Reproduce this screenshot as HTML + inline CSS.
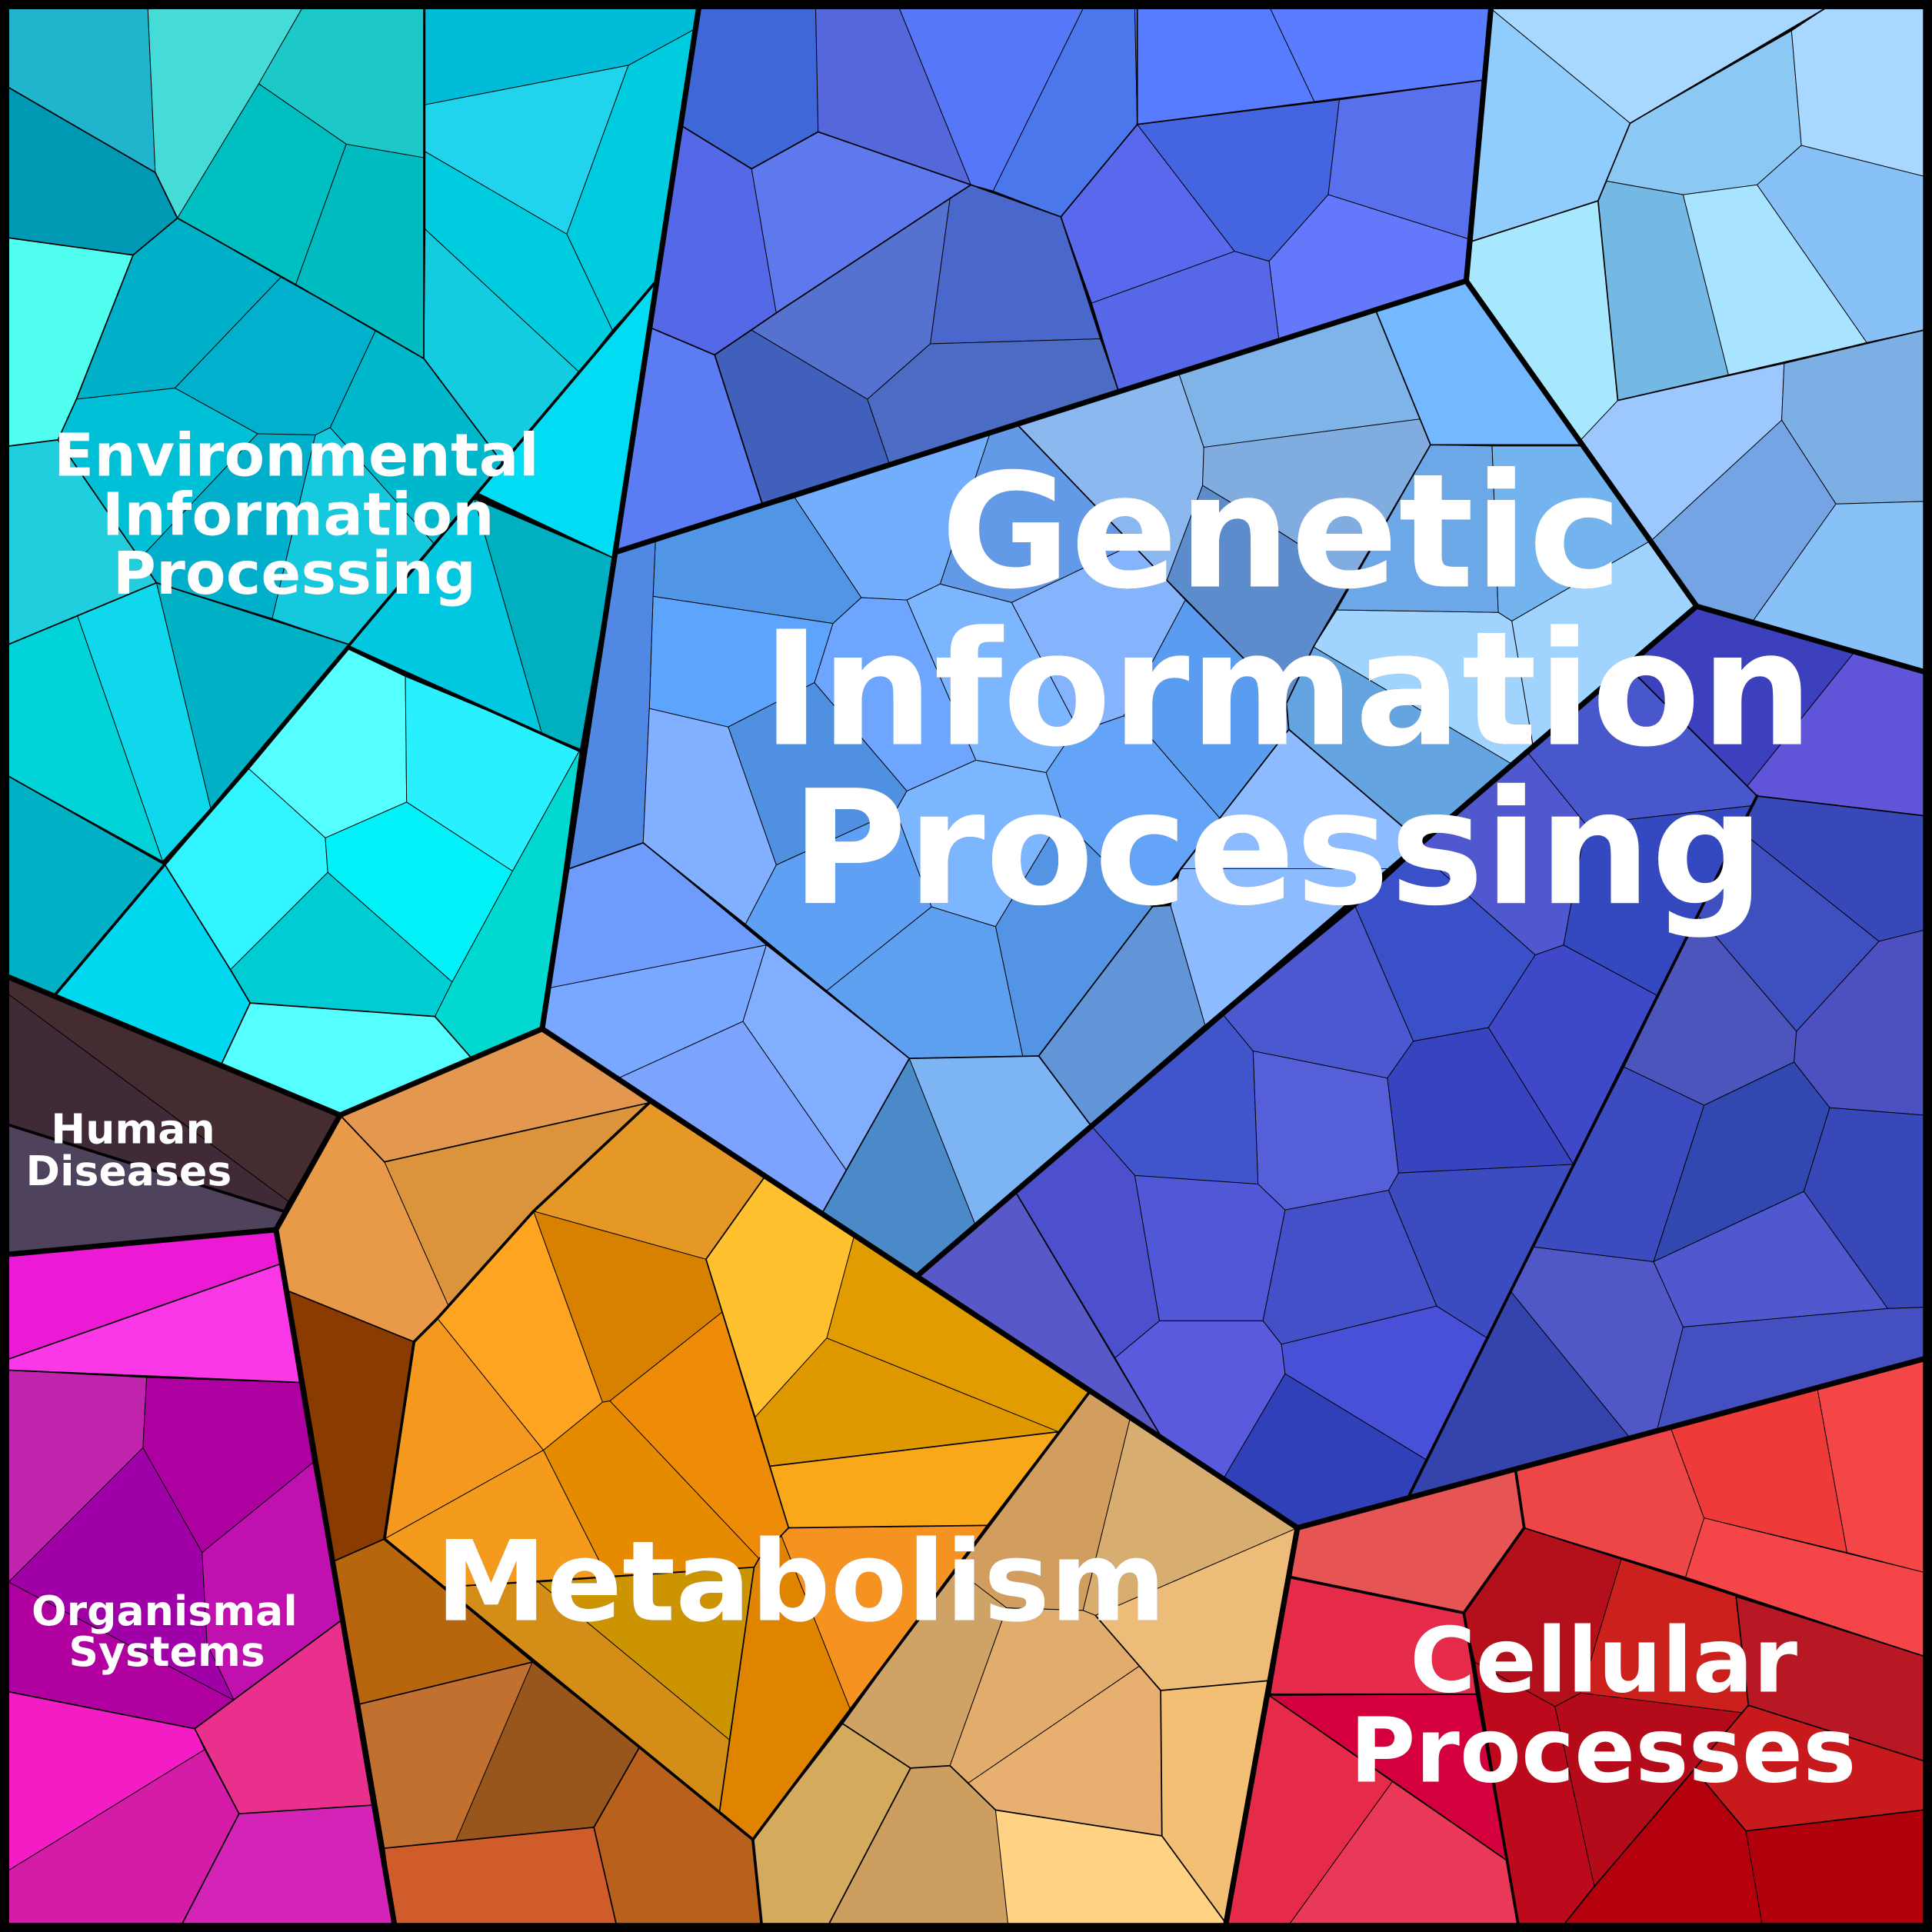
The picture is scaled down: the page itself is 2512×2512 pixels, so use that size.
<!DOCTYPE html>
<html><head><meta charset="utf-8"><title>Proteomaps Voronoi Treemap</title>
<style>
html,body{margin:0;padding:0;background:#000;width:2512px;height:2512px;overflow:hidden}
svg{display:block}
text{font-family:"DejaVu Sans","Liberation Sans",sans-serif;font-weight:700;fill:#fff;text-anchor:middle}
.t{filter:drop-shadow(.9px .9px .2px rgba(0,0,0,.75))}
polyline{fill:none;stroke:#000;stroke-linejoin:round;stroke-linecap:round}
</style></head><body>
<svg xmlns="http://www.w3.org/2000/svg" width="2512" height="2512" viewBox="0 0 1568 1568">
<rect width="1568" height="1568" fill="#000"/>
<g stroke="#000" stroke-width=".6" stroke-linejoin="round">
<!-- Environmental -->
<polygon fill="#20b5cc" points="7,7 120,7 126,140 7,71"/>
<polygon fill="#45dcd8" points="120,7 245,7 210,68 144,177 126,140"/>
<polygon fill="#1cc8c8" points="245,7 345,7 344,128 281,117 210,68"/>
<polygon fill="#00bfc0" points="210,68 281,117 240,231 144,177"/>
<polygon fill="#00bcc0" points="281,117 344,128 344,291 305,268 240,231"/>
<polygon fill="#00bcd8" points="345,7 567,7 565,23 510,53 345,85"/>
<polygon fill="#20d4ee" points="345,85 510,53 460,190 345,123"/>
<polygon fill="#00cce0" points="510,53 565,23 531,230 497,268 460,190"/>
<polygon fill="#00ccdf" points="345,123 460,190 497,268 470,302 345,186"/>
<polygon fill="#14cce0" points="345,186 470,302 408,376 344,291"/>
<polygon fill="#0099b4" points="7,71 126,140 144,177 108,207 7,193"/>
<polygon fill="#50fff0" points="7,193 108,207 62,324 47,357 7,362"/>
<polygon fill="#00b0c8" points="108,207 144,177 228,225 142,315 62,324"/>
<polygon fill="#00b0cc" points="228,225 305,268 268,347 256,353 209,352 142,315"/>
<polygon fill="#00c0d8" points="142,315 209,352 113,454 47,357 62,324"/>
<polygon fill="#00afcc" points="209,352 256,353 221,502 127,473 113,454"/>
<polygon fill="#14c8de" points="256,353 268,347 352,441 283,523 221,502"/>
<polygon fill="#00b8cc" points="268,347 305,268 344,291 408,376 352,441"/>
<polygon fill="#20cede" points="7,362 47,357 127,473 7,523"/>
<polygon fill="#00d4d8" points="7,523 63,500 132,699 7,630"/>
<polygon fill="#10d8ec" points="63,500 127,473 171,656 132,699"/>
<polygon fill="#00b0c4" points="127,473 283,523 171,656"/>
<polygon fill="#00b0c4" points="7,630 134,702 45,807 7,792"/>
<polygon fill="#00dcf4" points="531,230 498,453 389,401 386,403"/>
<polygon fill="#00b0c0" points="385,405 498,453 471,608 440,596"/>
<polygon fill="#00c8e0" points="385,405 440,596 283,524"/>
<polygon fill="#55ffff" points="283,527 329,549 330,651 264,680 202,624"/>
<polygon fill="#28f0ff" points="329,549 471,608 416,707 330,651"/>
<polygon fill="#30f4ff" points="202,624 264,680 266,708 187,787 134,702"/>
<polygon fill="#00f2f8" points="330,651 416,707 367,797 266,708 264,680"/>
<polygon fill="#00ccd4" points="266,708 367,797 353,825 202,814 187,787"/>
<polygon fill="#00d8f0" points="134,702 187,787 203,814 180,863 45,807"/>
<polygon fill="#55ffff" points="203,814 353,825 382,858 276,905 180,863"/>
<polygon fill="#00d8d0" points="471,608 440,835 382,858 353,825 367,797 416,707"/>
<!-- Genetic top -->
<polygon fill="#3f67d8" points="567,7 662,7 664,107 610,137 553,102"/>
<polygon fill="#5468dc" points="662,7 730,7 788,150 664,107"/>
<polygon fill="#5678f8" points="730,7 879,7 806,155 788,150"/>
<polygon fill="#4a78ec" points="879,7 921,7 923,101 861,176 806,155"/>
<polygon fill="#587cff" points="921,7 1031,7 1067,83 923,101"/>
<polygon fill="#5c7cff" points="1031,7 1210,7 1204,65 1067,83"/>
<polygon fill="#5468e8" points="553,102 610,137 630,254 580,288 528,266"/>
<polygon fill="#5e78ee" points="610,137 664,107 788,150 771,161 630,254"/>
<polygon fill="#4a68cc" points="771,161 788,150 861,176 893,275 755,279"/>
<polygon fill="#5672d0" points="630,254 771,161 755,279 704,324 610,268"/>
<polygon fill="#4060bc" points="580,288 610,268 704,324 722,377 619,410"/>
<polygon fill="#4c6cc4" points="704,324 755,279 893,275 908,318 722,377"/>
<polygon fill="#5c7cf4" points="528,266 580,288 619,410 500,448"/>
<polygon fill="#5a68ee" points="861,176 923,101 1002,204 886,246"/>
<polygon fill="#4464e0" points="923,101 1087,81 1078,158 1030,212 1002,204"/>
<polygon fill="#5870ec" points="1087,81 1204,65 1192,194 1078,158"/>
<polygon fill="#6478fc" points="1030,212 1078,158 1192,194 1190,228 1038,276"/>
<polygon fill="#5668e8" points="886,246 1002,204 1030,212 1038,276 908,318"/>
<!-- Genetic corner -->
<polygon fill="#a8d8ff" points="1210,7 1481,7 1323,100"/>
<polygon fill="#90ccfc" points="1210,7 1323,100 1297,163 1194,196"/>
<polygon fill="#a8e8ff" points="1194,196 1297,163 1313,325 1283,357 1190,228"/>
<polygon fill="#8cc8f4" points="1323,100 1454,25 1462,118 1426,150 1366,158 1304,147 1297,163"/>
<polygon fill="#a8d8ff" points="1481,7 1561,7 1561,143 1462,118 1454,25"/>
<polygon fill="#88c0f8" points="1462,118 1561,143 1561,268 1515,278 1426,150"/>
<polygon fill="#74b8e4" points="1304,147 1366,158 1403,305 1313,325 1297,163"/>
<polygon fill="#a8e4ff" points="1366,158 1426,150 1515,278 1403,305"/>
<polygon fill="#9cc8ff" points="1283,357 1313,325 1448,295 1446,341 1341,438"/>
<polygon fill="#7cb0e4" points="1448,295 1561,268 1561,407 1490,409 1446,341"/>
<polygon fill="#74a4e4" points="1341,438 1446,341 1490,409 1422,505 1377,492"/>
<polygon fill="#88c0f8" points="1490,409 1561,407 1561,545 1422,505"/>
<!-- Genetic mid -->
<polygon fill="#8cb8f0" points="826,345 957,304 977,363 976,394 947,471"/>
<polygon fill="#7eb4e8" points="957,304 1117,253 1153,340 977,363"/>
<polygon fill="#80ace0" points="977,363 1153,340 1161,361 1098,470 1039,432 976,394"/>
<polygon fill="#5c8ccc" points="976,394 1039,432 1098,470 1066,525 1044,571 1008,533 947,471"/>
<polygon fill="#629ae8" points="803,353 826,345 919,442 821,489 763,474"/>
<polygon fill="#72aefc" points="645,404 803,353 763,474 736,487 699,485"/>
<polygon fill="#86b4fc" points="821,489 919,442 947,471 962,487 912,581 892,588 874,590"/>
<polygon fill="#7cb6ff" points="736,487 763,474 821,489 874,590 849,627 792,617"/>
<polygon fill="#6ea6ff" points="699,485 736,487 792,617 736,642 661,554 676,506"/>
<polygon fill="#5096e4" points="532,438 645,404 699,485 676,506 530,484"/>
<polygon fill="#5ca4fc" points="530,484 676,506 661,554 591,590 527,575"/>
<polygon fill="#5090e0" points="591,590 661,554 736,642 727,658 630,702"/>
<polygon fill="#5ea0f4" points="630,702 727,658 756,736 671,804 605,750"/>
<polygon fill="#7cb6ff" points="727,658 736,642 792,617 849,627 861,664 808,752 756,736"/>
<polygon fill="#64a4f8" points="849,627 874,590 892,588 912,581 935,600 990,664 958,705 935,736 861,664"/>
<polygon fill="#5494e4" points="808,752 861,664 935,736 843,857 830,857"/>
<polygon fill="#5ea0f0" points="756,736 808,752 830,857 738,859 671,804"/>
<polygon fill="#5a9cf0" points="962,487 1008,533 1044,571 1046,592 990,664 935,600 912,581"/>
<polygon fill="#8cbcff" points="1046,592 1155,685 1128,705 958,705 990,664"/>
<polygon fill="#8cbcff" points="958,705 1128,705 978,832 950,735"/>
<polygon fill="#6294d8" points="935,736 950,735 978,832 885,913 843,857"/>
<polygon fill="#64a4e0" points="1066,525 1227,620 1155,685 1046,592 1044,571"/>
<polygon fill="#a0d4ff" points="1085,495 1216,497 1227,504 1244,604 1227,620 1066,525"/>
<polygon fill="#a0d4ff" points="1227,504 1341,438 1377,492 1244,604"/>
<polygon fill="#6ca8e8" points="1161,361 1211,362 1216,497 1085,495"/>
<polygon fill="#74b4ee" points="1211,362 1283,362 1341,438 1227,504 1216,497"/>
<polygon fill="#74b8ff" points="1117,253 1190,228 1283,361 1161,361"/>
<polygon fill="#5088e4" points="500,448 532,438 530,484 527,575 522,684 462,705"/>
<polygon fill="#80b0ff" points="527,575 591,590 630,702 605,750 522,684"/>
<polygon fill="#6e9cfc" points="462,705 522,684 622,767 445,802"/>
<polygon fill="#78a8ff" points="445,802 622,767 603,829 502,875 441,835"/>
<polygon fill="#82aeff" points="622,767 738,859 687,950 603,829"/>
<polygon fill="#7ca4ff" points="502,875 603,829 687,950 667,985 527,895"/>
<polygon fill="#4a8ac8" points="738,859 792,995 745,1035 667,985"/>
<polygon fill="#7cb4f4" points="738,859 843,857 885,913 792,995"/>
<!-- Genetic dark -->
<polygon fill="#3c40bc" points="1377,492 1506,528 1418,638 1321,541"/>
<polygon fill="#6055d8" points="1506,528 1561,545 1561,662 1426,646 1418,638"/>
<polygon fill="#4858cc" points="1240,611 1321,541 1426,646 1421,654 1287,669"/>
<polygon fill="#5058d0" points="1150,690 1240,611 1287,669 1269,767 1246,775"/>
<polygon fill="#3448c0" points="1287,669 1421,654 1345,808 1269,767"/>
<polygon fill="#3a50c8" points="1100,736 1150,690 1246,775 1208,834 1147,845"/>
<polygon fill="#4c58d0" points="993,824 1100,736 1147,845 1126,875 1017,853"/>
<polygon fill="#3e48c8" points="1246,775 1269,767 1345,808 1277,945 1208,834"/>
<polygon fill="#3843c0" points="1147,845 1208,834 1277,945 1135,952 1126,875"/>
<polygon fill="#5560d8" points="1017,853 1126,875 1135,952 1127,966 1043,982 1021,961"/>
<polygon fill="#4055cc" points="885,913 993,824 1017,853 1021,961 921,954"/>
<polygon fill="#4c50cc" points="824,967 885,913 921,954 941,1072 905,1102"/>
<polygon fill="#5058d8" points="921,954 1021,961 1043,982 1025,1072 941,1072"/>
<polygon fill="#4450c8" points="1043,982 1127,966 1166,1060 1040,1091 1025,1072"/>
<polygon fill="#3c4cc0" points="1127,966 1135,952 1277,945 1207,1086 1166,1060"/>
<polygon fill="#5a5ade" points="941,1072 1025,1072 1040,1091 1043,1115 993,1200 943,1167 905,1102"/>
<polygon fill="#4850d8" points="1040,1091 1166,1060 1207,1086 1158,1185 1043,1115"/>
<polygon fill="#3040b8" points="1043,1115 1158,1185 1143,1215 1053,1240 993,1200"/>
<polygon fill="#5858c8" points="745,1035 824,967 943,1167 884,1130"/>
<polygon fill="#3848b8" points="1426,646 1561,662 1561,755 1525,764 1412,674"/>
<polygon fill="#3e50c0" points="1412,674 1525,764 1458,837 1378,743"/>
<polygon fill="#4c55bc" points="1378,743 1458,837 1456,862 1383,897 1318,866"/>
<polygon fill="#4c50c0" points="1525,764 1561,755 1561,905 1485,899 1456,862 1458,837"/>
<polygon fill="#3c4cc0" points="1318,866 1383,897 1342,1024 1244,1012"/>
<polygon fill="#3048b0" points="1383,897 1456,862 1485,899 1464,967 1342,1024"/>
<polygon fill="#3848b8" points="1485,899 1561,905 1561,1061 1532,1062 1464,967"/>
<polygon fill="#5058d0" points="1342,1024 1464,967 1532,1062 1366,1077"/>
<polygon fill="#5058c8" points="1244,1012 1342,1024 1366,1077 1345,1160 1322,1166 1226,1048"/>
<polygon fill="#3444ac" points="1226,1048 1322,1166 1143,1215"/>
<polygon fill="#4450c0" points="1366,1077 1532,1062 1561,1061 1561,1103 1345,1160"/>
<!-- Metabolism -->
<polygon fill="#e4984f" points="276,905 440,835 527,895 312,943"/>
<polygon fill="#dc943c" points="312,943 527,895 433,983 364,1060"/>
<polygon fill="#e89a48" points="276,905 312,943 364,1060 336,1089 232,1047 224,998"/>
<polygon fill="#8a3c00" points="232,1047 336,1089 312,1249 271,1267"/>
<polygon fill="#e69826" points="527,895 620,956 573,1022 433,983"/>
<polygon fill="#fec02c" points="620,956 693,1004 671,1086 613,1150 573,1022"/>
<polygon fill="#e09c00" points="693,1004 884,1130 859,1162 671,1086"/>
<polygon fill="#e09800" points="671,1086 859,1162 625,1190 613,1150"/>
<polygon fill="#f8a818" points="625,1190 859,1162 801,1238 640,1240"/>
<polygon fill="#ffa420" points="433,983 489,1138 441,1177 355,1070"/>
<polygon fill="#d88000" points="433,983 573,1022 586,1065 495,1137 489,1138"/>
<polygon fill="#ee8c08" points="495,1137 586,1065 640,1240 616,1265"/>
<polygon fill="#e68a00" points="489,1138 495,1137 616,1265 612,1272 494,1282 441,1177"/>
<polygon fill="#f5991e" points="336,1089 355,1070 441,1177 312,1249"/>
<polygon fill="#f49a1c" points="312,1249 441,1177 494,1282 437,1283 379,1287 361,1288"/>
<polygon fill="#d48e18" points="361,1288 437,1284 592,1412 584,1470"/>
<polygon fill="#cc9400" points="437,1284 612,1272 592,1412"/>
<polygon fill="#e08400" points="616,1265 634,1246 690,1387 611,1493 584,1470 592,1412 612,1272"/>
<polygon fill="#f69220" points="640,1240 801,1238 690,1387 634,1246"/>
<polygon fill="#b8660e" points="271,1267 312,1249 432,1349 292,1383"/>
<polygon fill="#c27030" points="292,1383 432,1349 370,1494 312,1500"/>
<polygon fill="#98561c" points="432,1349 519,1418 482,1483 370,1494"/>
<polygon fill="#b8601c" points="519,1418 611,1493 618,1561 500,1561 482,1483"/>
<polygon fill="#d05c2c" points="312,1500 482,1483 500,1561 320,1561"/>
<polygon fill="#d29e60" points="884,1130 917,1152 879,1307 817,1305 775,1273"/>
<polygon fill="#cfa366" points="775,1273 817,1305 771,1433 739,1435 684,1399"/>
<polygon fill="#d8ae70" points="917,1152 1053,1240 889,1311 879,1307"/>
<polygon fill="#e2ac6c" points="817,1305 879,1307 889,1311 925,1352 786,1447 771,1433"/>
<polygon fill="#e8b070" points="786,1447 925,1352 942,1372 943,1490 808,1469"/>
<polygon fill="#ecbc78" points="889,1311 1053,1240 1030,1364 942,1372"/>
<polygon fill="#f2bf74" points="942,1372 1030,1364 995,1561 943,1490"/>
<polygon fill="#d4aa5c" points="611,1493 684,1399 739,1435 673,1561 618,1561"/>
<polygon fill="#cc9e60" points="739,1435 771,1433 808,1469 818,1561 673,1561"/>
<polygon fill="#ffd284" points="808,1469 943,1490 995,1561 818,1561"/>
<!-- Human -->
<polygon fill="#442c30" points="7,793 276,905 234,975 7,807"/>
<polygon fill="#402a38" points="7,807 234,975 230,983 7,913"/>
<polygon fill="#4e425c" points="7,913 230,983 224,998 7,1018"/>
<!-- Organismal -->
<polygon fill="#ec1ad4" points="7,1018 224,1000 227,1026 7,1103"/>
<polygon fill="#fa38e8" points="7,1103 227,1026 243,1122 7,1112"/>
<polygon fill="#c024ac" points="7,1112 119,1118 116,1175 7,1284"/>
<polygon fill="#ae00a0" points="119,1118 243,1122 254,1187 164,1260 116,1175"/>
<polygon fill="#a000a8" points="7,1284 116,1175 164,1260 168,1334 190,1380"/>
<polygon fill="#c010b0" points="164,1260 254,1187 277,1315 190,1380 168,1334"/>
<polygon fill="#b000a0" points="7,1284 190,1380 158,1403 7,1373"/>
<polygon fill="#e8308c" points="158,1403 277,1315 303,1465 194,1472"/>
<polygon fill="#f41cc4" points="7,1373 158,1403 166,1420 7,1518"/>
<polygon fill="#d41ca8" points="7,1518 166,1420 194,1472 148,1561 7,1561"/>
<polygon fill="#d424b8" points="194,1472 303,1465 320,1561 148,1561"/>
<!-- Cellular -->
<polygon fill="#e65454" points="1053,1240 1230,1193 1237,1240 1188,1309 1047,1280"/>
<polygon fill="#ee4646" points="1230,1193 1356,1159 1383,1232 1368,1280 1237,1240"/>
<polygon fill="#ee3a38" points="1356,1159 1475,1127 1499,1260 1383,1232"/>
<polygon fill="#f44646" points="1475,1127 1561,1103 1561,1276 1499,1260"/>
<polygon fill="#f44648" points="1383,1232 1561,1276 1561,1344 1368,1280"/>
<polygon fill="#b4101c" points="1237,1240 1316,1265 1283,1374 1262,1385 1197,1349 1188,1310"/>
<polygon fill="#cc201c" points="1316,1265 1409,1295 1419,1384 1414,1390 1283,1374"/>
<polygon fill="#b81824" points="1409,1296 1561,1344 1561,1429 1419,1384"/>
<polygon fill="#c81a1c" points="1419,1384 1561,1429 1561,1469 1417,1486 1375,1436"/>
<polygon fill="#bc0a1c" points="1197,1349 1262,1385 1294,1531 1270,1561 1232,1561"/>
<polygon fill="#b40a1a" points="1262,1385 1283,1374 1414,1390 1375,1436 1294,1531"/>
<polygon fill="#b4000c" points="1375,1436 1417,1486 1430,1561 1270,1561 1294,1531"/>
<polygon fill="#b0000c" points="1417,1486 1561,1469 1561,1561 1430,1561"/>
<polygon fill="#e62a4a" points="1047,1280 1188,1309 1198,1375 1031,1375"/>
<polygon fill="#d4003e" points="1030,1376 1198,1375 1223,1510"/>
<polygon fill="#e62a4a" points="1030,1376 1130,1446 1047,1561 995,1561"/>
<polygon fill="#ea3858" points="1130,1446 1223,1510 1232,1561 1047,1561"/>
</g>
<!-- level-3 lines -->
<g stroke-width="1.1">
<polyline points="344,7 344,291 408,376"/>
<polyline points="144,177 240,231 344,291"/>
<polyline points="7,71 126,140 144,177 108,207 7,193"/>
<polyline points="108,207 62,324 47,357 7,362"/>
<polyline points="47,357 127,473 283,523"/>
<polyline points="7,523 127,473"/>
<polyline points="7,630 134,702"/>
<polyline points="389,401 498,453"/>
<polyline points="134,702 187,787 203,814 353,825 382,858"/>
<polyline points="203,814 180,863"/>
<polyline points="630,254 771,161 788,150 861,176 908,318"/>
<polyline points="580,288 630,254"/>
<polyline points="553,102 610,137 664,107 788,150"/>
<polyline points="528,266 580,288 619,410"/>
<polyline points="923,7 923,101 861,176"/>
<polyline points="923,101 1204,65"/>
<polyline points="1323,100 1481,7"/>
<polyline points="1323,100 1297,163 1313,325"/>
<polyline points="1194,196 1297,163"/>
<polyline points="1313,325 1561,268"/>
<polyline points="826,345 947,471 1008,533 1044,571 1046,592 1155,685"/>
<polyline points="1161,361 1066,525 1044,571"/>
<polyline points="1046,592 990,664 843,857 885,913 978,832"/>
<polyline points="1117,253 1161,361 1283,361"/>
<polyline points="462,705 522,684 738,859 843,857"/>
<polyline points="738,859 667,985"/>
<polyline points="1426,646 1561,662"/>
<polyline points="885,913 824,967 943,1167"/>
<polyline points="1426,646 1321,541"/>
<polyline points="336,1089 232,1047"/>
<polyline points="276,905 312,943 527,895"/>
<polyline points="271,1267 312,1249"/>
<polyline points="292,1383 432,1349"/>
<polyline points="312,1500 482,1483 519,1418"/>
<polyline points="482,1483 500,1561"/>
<polyline points="361,1288 612,1272 584,1470"/>
<polyline points="640,1240 801,1238"/>
<polyline points="640,1240 616,1265 612,1272"/>
<polyline points="573,1022 640,1240"/>
<polyline points="573,1022 620,956"/>
<polyline points="625,1190 859,1162"/>
<polyline points="942,1372 1030,1364"/>
<polyline points="889,1311 942,1372 943,1490 995,1561"/>
<polyline points="684,1399 739,1435 771,1433 808,1469 943,1490"/>
<polyline points="739,1435 673,1561"/>
<polyline points="1237,1240 1561,1344"/>
<polyline points="1409,1296 1419,1384 1561,1429"/>
<polyline points="1419,1384 1375,1436 1294,1531 1270,1561"/>
<polyline points="1031,1375 1198,1375"/>
<polyline points="1030,1376 1223,1510"/>
<polyline points="7,1103 227,1026"/>
<polyline points="7,1112 243,1122"/>
<polyline points="158,1403 277,1315"/>
<polyline points="7,1373 158,1403 194,1472 303,1465"/>
<polyline points="194,1472 148,1561"/>
<polyline points="1375,1436 1417,1486 1561,1469"/>
</g>
<!-- level-2 lines -->
<g stroke-width="2.3">
<polyline points="531,230 283,524 45,807"/>
<polyline points="283,525 472,610"/>
<polyline points="1426,646 1143,1215"/>
<polyline points="7,913 230,983"/>
<polyline points="527,895 433,983 355,1070 336,1089 312,1249 611,1493 618,1561"/>
<polyline points="884,1130 611,1493"/>
<polyline points="1053,1240 1047,1280 1188,1309 1232,1561"/>
<polyline points="1188,1309 1237,1240 1230,1193"/>
</g>
<!-- group outlines -->
<g stroke-width="4.4">
<polyline points="567,7 440,835 276,905 7,793"/>
<polyline points="276,905 224,998 7,1018"/>
<polyline points="224,998 320,1561"/>
<polyline points="440,835 1053,1240 995,1561"/>
<polyline points="1053,1240 1561,1103"/>
<polyline points="1210,7 1190,228 500,448"/>
<polyline points="1190,228 1377,492 1561,545"/>
<polyline points="1377,492 745,1035"/>
</g>
<path d="M0 0H1568V1568H0Z M7.5 7.5V1561H1561V7.5Z" fill="#000" fill-rule="evenodd"/>
<g class="t">
<text x="240.500" y="386" font-size="48">Environmental</text>
<text x="242" y="434" font-size="48">Information</text>
<text x="239" y="482" font-size="48">Processing</text>
<text x="108" y="928" font-size="33.500">Human</text>
<text x="104.500" y="962" font-size="33.500">Diseases</text>
<text x="133.500" y="1319" font-size="33.500">Organismal</text>
<text x="135.500" y="1352" font-size="33.500">Systems</text>
<text x="1040" y="476" font-size="128.600">Genetic</text>
<text x="1045" y="604" font-size="128.600">Information</text>
<text x="1037" y="733" font-size="128.600">Processing</text>
<text x="650" y="1315" font-size="90.500">Metabolism</text>
<text x="1301.500" y="1373" font-size="72.800">Cellular</text>
<text x="1301" y="1446" font-size="72.800">Processes</text>
</g>
</svg>
</body></html>
